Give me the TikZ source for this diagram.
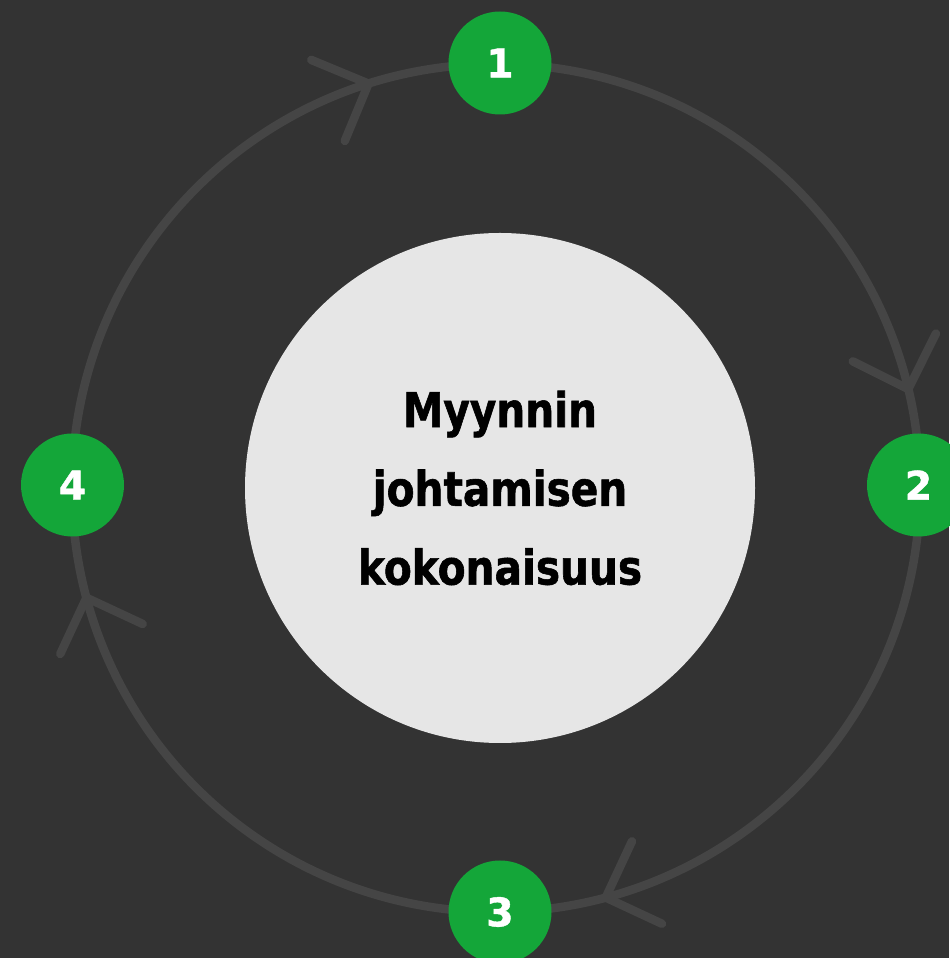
\documentclass[tikz,border=0pt]{standalone}
\usepackage{fontspec}
\newfontfamily\lblfont{DejaVu Sans}[FakeStretch=0.85,FakeBold=1.2]
\newfontfamily\numfont{DejaVu Sans}[FakeBold=1.0]
\definecolor{bgdark}{HTML}{333333}
\definecolor{ringgrey}{HTML}{454545}
\definecolor{hubgrey}{HTML}{E6E6E6}
\definecolor{stepgreen}{RGB}{20,166,57}
\tikzset{
  ringline/.style={draw=ringgrey, line width=0.085cm},
  chev/.style={draw=ringgrey, line width=0.085cm, line cap=round, line join=round},
  hub/.style={circle, fill=hubgrey, minimum size=5.1cm, inner sep=0pt,
    align=center, font=\lblfont\bfseries\fontsize{13.6}{22.4}\selectfont, text=black},
  stepdot/.style={circle, fill=stepgreen, minimum size=1.03cm, inner sep=0pt,
    font=\numfont\bfseries\fontsize{11.2}{12}\selectfont, text=white}
}
\begin{document}
\begin{tikzpicture}
  % canvas
  \fill[bgdark] (0,0) rectangle (9.49,9.58);
  \useasboundingbox (0,0) rectangle (9.49,9.58);

  % cycle ring
  \coordinate (ringc) at (4.96,4.70);
  \draw[ringline] (ringc) circle[radius=4.24];

  % direction marks (clockwise travel)
  \foreach \a in {107.5,13.5,-75,195}{
    \path (ringc) ++(\a:4.24) coordinate (tip);
    \draw[chev] (tip) ++(\a+50:0.62) -- (tip) -- ++(\a+140:0.62);
  }

  % central hub
  \node[hub] (hub) at (5.00,4.70) {Myynnin\\johtamisen\\kokonaisuus};

  % numbered steps
  \node[stepdot] (s1) at (5.00,8.95) {1};
  \node[stepdot] (s2) at (9.185,4.73) {2};
  \node[stepdot] (s3) at (5.00,0.46) {3};
  \node[stepdot] (s4) at (0.725,4.73) {4};
\end{tikzpicture}
\end{document}
